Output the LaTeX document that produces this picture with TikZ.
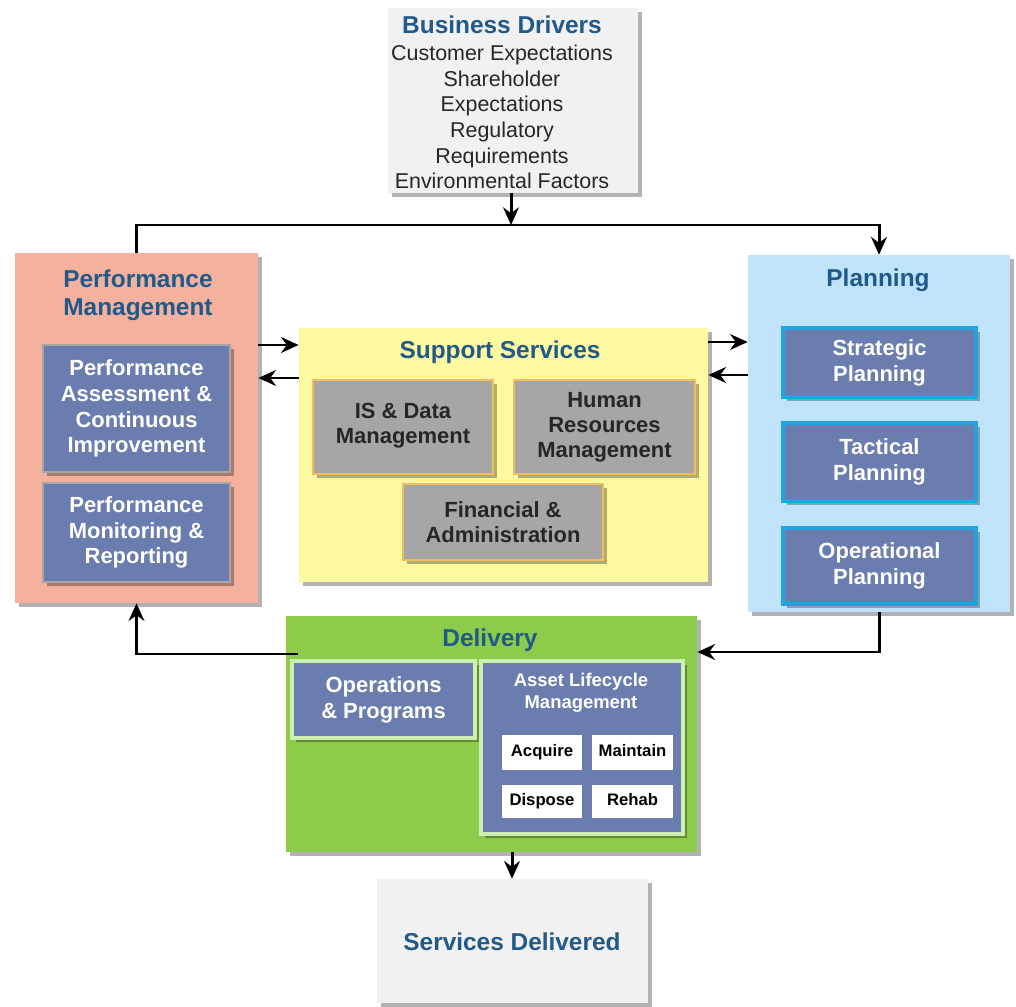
\documentclass[tikz,border=0pt]{standalone}
\usepackage{fontspec}
\setmainfont{Liberation Sans}
\usetikzlibrary{fit,shadows,arrows.meta}
\definecolor{titleblue}{HTML}{215A8A}
\definecolor{bdgray}{HTML}{F1F1F1}
\definecolor{pmfill}{HTML}{F3B19E}
\definecolor{slate}{HTML}{6A7DAE}
\definecolor{spfill}{HTML}{FDF9A0}
\definecolor{spbox}{HTML}{A6A6A6}
\definecolor{spborder}{HTML}{F2BE5C}
\definecolor{plfill}{HTML}{BFE4F9}
\definecolor{plborder}{HTML}{22A2DE}
\definecolor{dlfill}{HTML}{8DCB4B}
\definecolor{dlborder}{HTML}{CDEFB2}
\tikzset{
  shad/.style={drop shadow={shadow xshift=2.5pt, shadow yshift=-2.5pt, opacity=0.3, fill=black}},
  panel/.style={inner sep=0pt, shad},
  title/.style={text=titleblue, font=\bfseries\fontsize{13.9}{15.9}\selectfont, align=center, inner sep=0pt},
  inner/.style={inner sep=0pt, shad, fill=slate},
  wtext/.style={inner sep=0pt, align=center, text=white, font=\bfseries\fontsize{12.5}{14.7}\selectfont},
  spinner/.style={inner sep=0pt, shad, fill=spbox, draw=spborder, line width=1.6pt},
  sptext/.style={inner sep=0pt, align=center, text=black!85, font=\bfseries\fontsize{12.5}{14.2}\selectfont},
  whitebox/.style={inner sep=0pt, fill=white},
  btext/.style={inner sep=0pt, text height=7pt, text depth=2pt, text=black, font=\bfseries\fontsize{9.5}{11}\selectfont},
  conn/.style={line width=1.7pt, draw=black},
  arr/.style={conn, -{Stealth[length=10pt,width=9pt]}}
}
\begin{document}
\begin{tikzpicture}[x=0.02cm,y=-0.02cm]
\useasboundingbox (0,0) rectangle (1016,1006);
\fill[white] (0,0) rectangle (1016,1006);

% Business Drivers
\node[panel, fill=bdgray, fit={(388,8) (638,193)}] (bd) {};
\node[title] (bdt) at (502,25) {Business Drivers};
\node[align=center, inner sep=0pt, text=black!85, font=\fontsize{12.2}{14.6}\selectfont] (bdb) at (502,117) {Customer Expectations\\Shareholder\\Expectations\\Regulatory\\Requirements\\Environmental Factors};

% Performance Management
\node[panel, fill=pmfill, fit={(15,253) (258,603)}] (pm) {};
\node[title] (pmt) at (138,295) {Performance\\Management};
\node[inner, draw=gray!70, line width=1pt, fit={(43,345) (230,472)}] (pa) {};
\node[wtext] (pat) at (pa.center) {Performance\\Assessment \&\\Continuous\\Improvement};
\node[inner, draw=gray!70, line width=1pt, fit={(43,483) (230,582)}] (pmr) {};
\node[wtext] (pmrt) at (pmr.center) {Performance\\Monitoring \&\\Reporting};

% Support Services
\node[panel, fill=spfill, fit={(299,328) (708,582)}] (sp) {};
\node[title] (spt) at (500,352) {Support Services};
\node[spinner, fit={(313,380) (493,474)}] (is) {};
\node[sptext] (ist) at ([yshift=1pt]is.center) {IS \& Data\\Management};
\node[spinner, fit={(514,380) (695,474)}] (hr) {};
\node[sptext] (hrt) at (hr.center) {Human\\Resources\\Management};
\node[spinner, fit={(403,484) (603,560)}] (fa) {};
\node[sptext] (fat) at (fa.center) {Financial \&\\Administration};

% Planning
\node[panel, fill=plfill, fit={(748,255) (1010,612)}] (pl) {};
\node[title] (plt) at (878,280) {Planning};
\node[inner, draw=plborder, line width=1.8pt, fit={(783,328) (976,397)}] (stp) {};
\node[wtext] (stpt) at (stp.center) {Strategic\\Planning};
\node[inner, draw=plborder, line width=1.8pt, fit={(783,423) (976,501)}] (tap) {};
\node[wtext] (tapt) at (tap.center) {Tactical\\Planning};
\node[inner, draw=plborder, line width=1.8pt, fit={(783,528) (976,604)}] (opp) {};
\node[wtext] (oppt) at (opp.center) {Operational\\Planning};

% Delivery
\node[panel, fill=dlfill, fit={(286,616) (697,852)}] (dl) {};
\node[title] (dlt) at (490,640) {Delivery};
\node[inner, draw=dlborder, line width=1.8pt, fit={(292,661) (475,738)}] (ops) {};
\node[wtext] (opst) at (ops.center) {Operations\\\& Programs};
\node[inner, draw=dlborder, line width=1.8pt, fit={(481,661) (683,834)}] (alm) {};
\node[inner sep=0pt, align=center, text=white, font=\bfseries\fontsize{10.5}{12.8}\selectfont] (almt) at (581,693) {Asset Lifecycle\\Management};
\node[whitebox, fit={(502,735) (582,770)}] (acq) {};
\node[btext] at (acq.center) {Acquire};
\node[whitebox, fit={(592,735) (673,770)}] (mnt) {};
\node[btext] at (mnt.center) {Maintain};
\node[whitebox, fit={(502,785) (582,818)}] (dsp) {};
\node[btext] at (dsp.center) {Dispose};
\node[whitebox, fit={(592,785) (673,818)}] (rhb) {};
\node[btext] at (rhb.center) {Rehab};

% Services Delivered
\node[panel, fill=bdgray, fit={(377,879) (648,1003)}] (sd) {};
\node[title] (sdt) at (512,942) {Services Delivered};

% Connectors
\coordinate (j1) at (511,225);
\draw[arr] (bd.south -| j1) -- (j1);
\draw[arr] (pm.north) |- (pl.north |- j1) -- (pl.north);

\draw[arr] (pm.east |- 0,345) -- (sp.west |- 0,345);
\draw[arr] (sp.west |- 0,378) -- (pm.east |- 0,378);
\draw[arr] (sp.east |- 0,342) -- (pl.west |- 0,342);
\draw[arr] (pl.west |- 0,375) -- (sp.east |- 0,375);

\coordinate (dlout) at (298,654);
\draw[arr] (pl.south) |- (dl.east |- 0,652);
\draw[arr] (dlout) -| (pm.south);
\draw[arr] (dl.south -| 512,0) -- (sd.north -| 512,0);
\end{tikzpicture}
\end{document}
